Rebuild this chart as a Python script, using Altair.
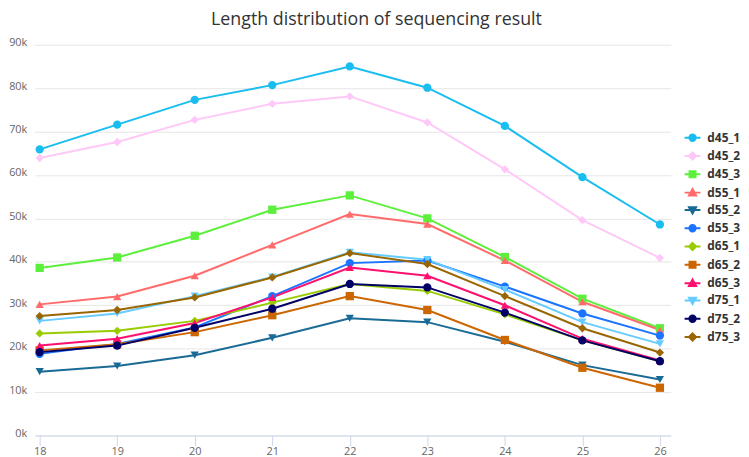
import altair as alt
import pandas as pd

lengths = [18, 19, 20, 21, 22, 23, 24, 25, 26]
series_names = ["d45_1", "d45_2", "d45_3", "d55_1", "d55_2", "d55_3",
                "d65_1", "d65_2", "d65_3", "d75_1", "d75_2", "d75_3"]

d45_1 = [65900, 71600, 77300, 80700, 85000, 80100, 71300, 59500, 48600]
d45_2 = [63900, 67600, 72700, 76400, 78100, 72100, 61300, 49600, 40900]
d45_3 = [38600, 41000, 46000, 52000, 55300, 50000, 41100, 31500, 24700]
d55_1 = [30200, 32000, 36800, 43900, 51000, 48700, 40300, 30800, 24300]
d55_2 = [14700, 16000, 18500, 22500, 27000, 26100, 21600, 16200, 12900]
d55_3 = [18800, 21100, 24900, 32100, 39700, 40300, 34300, 28100, 23000]
d65_1 = [23500, 24100, 26400, 30600, 34900, 33300, 27900, 21900, 17100]
d65_2 = [19600, 21000, 23800, 27700, 32100, 28900, 22000, 15600, 11000]
d65_3 = [20700, 22300, 25900, 31800, 38700, 36800, 30000, 22300, 17300]
d75_1 = [26400, 28100, 32100, 36500, 42200, 40500, 33600, 26100, 21100]
d75_2 = [19200, 20700, 24800, 29200, 34900, 34100, 28300, 21900, 17100]
d75_3 = [27500, 28900, 31800, 36400, 42000, 39500, 32100, 24700, 19100]

series_values = [d45_1, d45_2, d45_3, d55_1, d55_2, d55_3,
                 d65_1, d65_2, d65_3, d75_1, d75_2, d75_3]

colors = ["#19bdf0", "#ffc8f8", "#5cf03c", "#ff6b6b", "#1a6a96", "#1a74ff",
          "#99cc00", "#cc6600", "#ff0f6e", "#66ccff", "#000066", "#996600"]

shapes = ["circle", "diamond", "square", "triangle-up", "triangle-down", "circle",
          "diamond", "square", "triangle-up", "triangle-down", "circle", "diamond"]

# legend symbols: a short line with the marker on it (Highcharts style)
legend_path = {
    "circle": "M-1,0L1,0M0.4,0A0.4,0.4,0,1,1,-0.4,0A0.4,0.4,0,1,1,0.4,0Z",
    "diamond": "M-1,0L1,0M0,-0.45L0.45,0L0,0.45L-0.45,0Z",
    "square": "M-1,0L1,0M-0.38,-0.38L0.38,-0.38L0.38,0.38L-0.38,0.38Z",
    "triangle-up": "M-1,0L1,0M0,-0.45L0.45,0.35L-0.45,0.35Z",
    "triangle-down": "M-1,0L1,0M0,0.45L0.45,-0.35L-0.45,-0.35Z",
}
legend_shapes = [legend_path[s] for s in shapes]

rows = []
for name, vals in zip(series_names, series_values):
    for L, v in zip(lengths, vals):
        rows.append({"length": L, "reads": v, "series": name})
df = pd.DataFrame(rows)

FONT = "Open Sans"

x = alt.X("length:Q",
          scale=alt.Scale(domain=[17.936, 26.14], nice=False, zero=False),
          axis=alt.Axis(values=lengths, format="d", title=None, grid=False,
                        domainColor="#ccd6eb", domainWidth=1,
                        tickColor="#ccd6eb", tickSize=10, tickWidth=1,
                        labelColor="#666666", labelFontSize=11, labelFont=FONT,
                        labelPadding=0))
y = alt.Y("reads:Q",
          scale=alt.Scale(domain=[0, 90000], nice=False),
          axis=alt.Axis(values=[0, 10000, 20000, 30000, 40000, 50000, 60000, 70000, 80000, 90000],
                        labelExpr="datum.value / 1000 + 'k'", title=None,
                        domain=False, ticks=False, grid=True,
                        gridColor="#e6e6e6", gridWidth=1,
                        labelColor="#666666", labelFontSize=11, labelFont=FONT,
                        labelPadding=8, labelOffset=-2))

color = alt.Color("series:N", scale=alt.Scale(domain=series_names, range=colors), legend=None)

lines = alt.Chart(df).mark_line(strokeWidth=2).encode(x=x, y=y, color=color)

points = alt.Chart(df).mark_point(filled=True, opacity=1, size=70).encode(
    x=x, y=y, color=color,
    shape=alt.Shape("series:N", scale=alt.Scale(domain=series_names, range=shapes), legend=None),
)

leg = alt.Legend(title=None, orient="none", legendX=656, legendY=85,
                 symbolSize=256, symbolStrokeWidth=2, labelFont=FONT,
                 labelFontSize=12, labelFontWeight="bold", labelColor="#333333",
                 labelOffset=6, rowPadding=1.5, padding=0)

legend_layer = alt.Chart(df).transform_filter("false").mark_point(filled=True, opacity=1).encode(
    x=x, y=y,
    fill=alt.Fill("series:N", scale=alt.Scale(domain=series_names, range=colors), legend=leg),
    stroke=alt.Stroke("series:N", scale=alt.Scale(domain=series_names, range=colors), legend=leg),
    shape=alt.Shape("series:N", scale=alt.Scale(domain=series_names, range=legend_shapes), legend=leg),
)

chart = alt.layer(lines, points, legend_layer).resolve_scale(
    shape="independent", fill="independent", stroke="independent"
).properties(
    width=643, height=395,
    autosize=alt.AutoSizeParams(type="none"),
    padding={"left": 27, "top": 34.7, "right": 71, "bottom": 19},
    title=alt.TitleParams("Length distribution of sequencing result", fontSize=18,
                          font=FONT, fontWeight="normal", color="#333333",
                          anchor="middle", frame="group", offset=8, dx=24),
).configure_view(stroke=None)

chart.save("out.html", embed_options={"renderer": "svg", "actions": False})
